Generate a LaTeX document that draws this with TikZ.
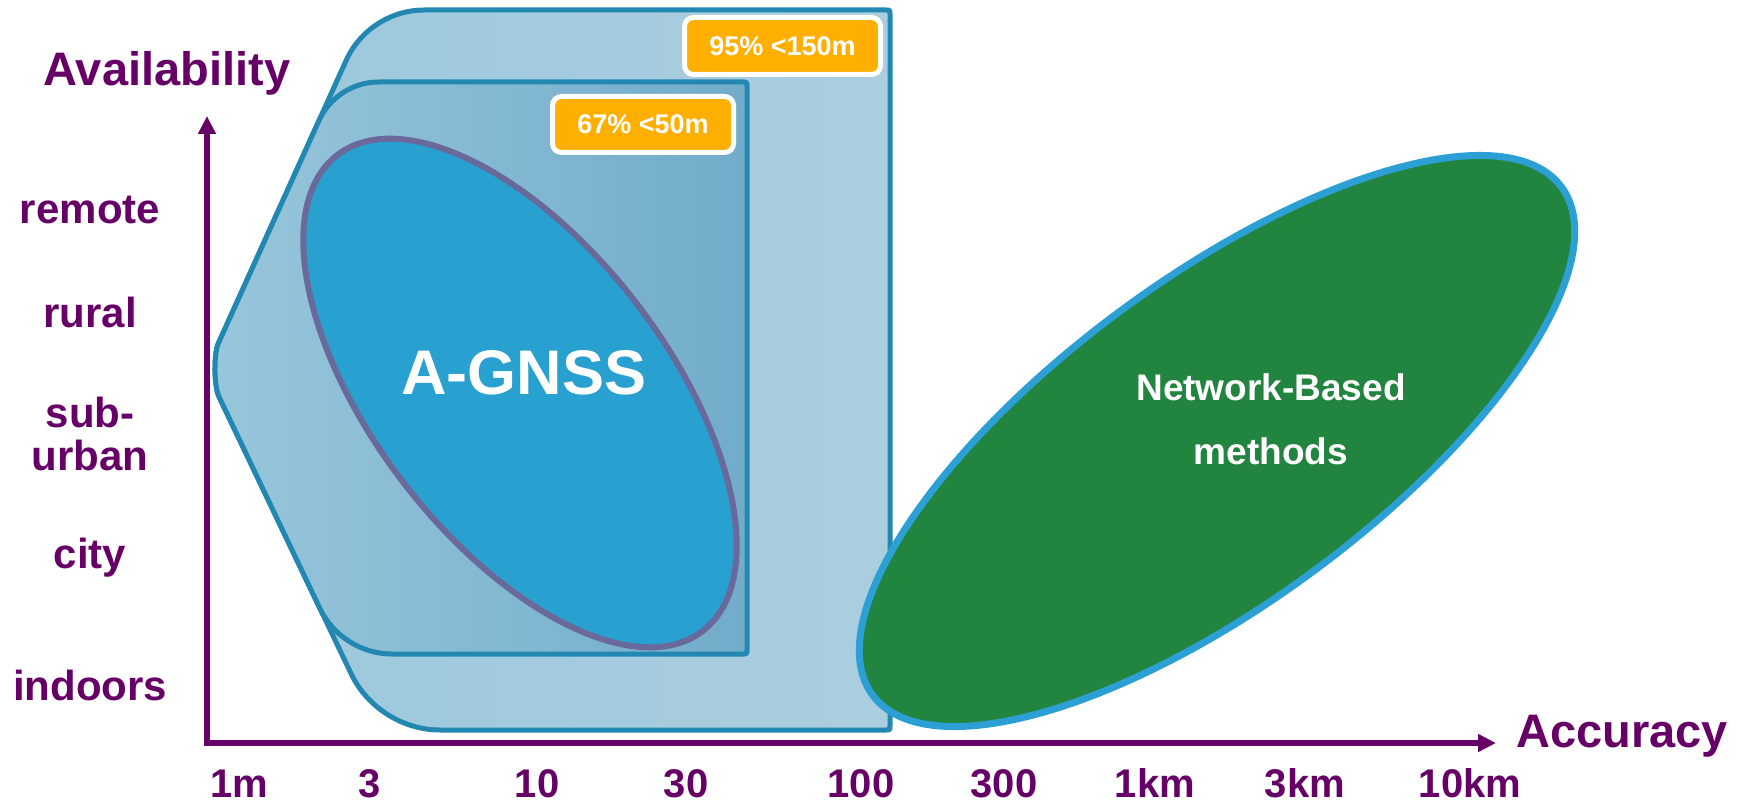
\documentclass[tikz,border=0pt]{standalone}
\usepackage{fontspec}
\setmainfont{Liberation Sans}
\usetikzlibrary{arrows.meta,calc}

\definecolor{axisc}{HTML}{660066}
\definecolor{zoneedge}{HTML}{2288B2}
\definecolor{outerL}{HTML}{9BC8DC}
\definecolor{outerR}{HTML}{ABCEDF}
\definecolor{innerL}{HTML}{98C6DB}
\definecolor{innerR}{HTML}{71ACCA}
\definecolor{gnssfill}{HTML}{28A0D0}
\definecolor{gnssedge}{HTML}{6A699B}
\definecolor{netfill}{HTML}{21843F}
\definecolor{netedge}{HTML}{2CA0D4}
\definecolor{badgec}{HTML}{FFAF00}

\begin{document}
\begin{tikzpicture}[x=1pt,y=-1pt,
  axislabel/.style={text=axisc, font=\bfseries\fontsize{47}{50}\selectfont, anchor=base, inner sep=0pt},
  ylab/.style={text=axisc, font=\bfseries\fontsize{42}{46}\selectfont, anchor=base, inner sep=0pt},
  xlab/.style={text=axisc, font=\bfseries\fontsize{40}{44}\selectfont, anchor=base, inner sep=0pt},
  zone/.style={draw=zoneedge, line width=5pt, line join=round},
  gnss/.style={fill=gnssfill, draw=gnssedge, line width=6pt},
  net/.style={fill=netfill, draw=netedge, line width=7pt},
  badge/.style={fill=badgec, draw=white, line width=5pt, rounded corners=9pt,
    text=white, font=\bfseries\fontsize{27}{30}\selectfont, inner sep=0pt},
  inlabel/.style={text=white, anchor=base, inner sep=0pt},
  axisline/.style={draw=axisc, line width=5.5pt, line join=miter,
    {Triangle[length=18pt,width=17pt]}-{Triangle[length=18pt,width=17pt]}}]

\useasboundingbox (0,0) rectangle (1745,805);

% 95% zone (outer hexagonal region)
\path[zone, left color=outerL, right color=outerR]
  (424,10) -- (886,10) .. controls (890,10) .. (890,14)
  -- (890,726) .. controls (890,730) .. (886,730)
  -- (440,730) .. controls (402.8,730) and (367.3,707.6) .. (351.3,674.1)
  -- (219.1,397.0) .. controls (213.9,386.2) and (213.5,353.7) .. (218.6,342.8)
  -- (346.3,60.1) .. controls (359.9,30.0) and (391,10) .. (424,10) -- cycle;

% 67% zone (inner region)
\path[zone, left color=innerL, right color=innerR]
  (378.4,82) -- (744,82) .. controls (747,82) .. (747,85)
  -- (747,651) .. controls (747,654) .. (744,654)
  -- (391.7,654) .. controls (361.7,654) and (333.1,636.0) .. (320.1,608.9)
  -- (219.1,397.0) .. controls (213.9,386.2) and (213.5,353.7) .. (218.6,342.8)
  -- (319.1,120.3) .. controls (329.5,97.3) and (353.2,82) .. (378.4,82) -- cycle;

% A-GNSS ellipse
\path[gnss, rotate around={-52.5:(520,393)}] (520,393) ellipse [x radius=300, y radius=147];
\node[inlabel, font=\bfseries\fontsize{63}{66}\selectfont] (agnss) at (524,394) {A-GNSS};

% Network-based ellipse
\path[net, rotate around={36.4:(1217,441)}] (1217,441) ellipse [x radius=428, y radius=162];
\node[inlabel, font=\bfseries\fontsize{37}{40}\selectfont] (netA) at (1271,400) {Network-Based};
\node[inlabel, font=\bfseries\fontsize{37}{40}\selectfont] (netB) at (1271,464) {methods};

% accuracy badges
\node[badge, minimum width=196pt, minimum height=57pt] (b95) at (782.5,46) {95\% <150m};
\node[badge, minimum width=181pt, minimum height=56pt] (b67) at (643,124.5) {67\% <50m};

% axes
\coordinate (O) at (207,743);
\coordinate (ytop) at (207,116);
\coordinate (xend) at (1496,743);
\draw[axisline] (ytop) -- (O) -- (xend);

\node[axislabel] (avail) at (167,86) {Availability};
\node[axislabel] (acc) at (1622,747) {Accuracy};

% availability levels
\node[ylab] (remote) at (90,223) {remote};
\node[ylab] (rural) at (90,327) {rural};
\node[ylab] (sub) at (90,427) {sub-};
\node[ylab] (urban) at (90,470) {urban};
\node[ylab] (city) at (90,568) {city};
\node[ylab] (indoors) at (90,700) {indoors};

% accuracy scale
\node[xlab] (t1) at (239,797) {1m};
\node[xlab] (t2) at (370,797) {3};
\node[xlab] (t3) at (537,797) {10};
\node[xlab] (t4) at (686,797) {30};
\node[xlab] (t5) at (861,797) {100};
\node[xlab] (t6) at (1004,797) {300};
\node[xlab] (t7) at (1155,797) {1km};
\node[xlab] (t8) at (1305,797) {3km};
\node[xlab] (t9) at (1470,797) {10km};
\end{tikzpicture}
\end{document}
